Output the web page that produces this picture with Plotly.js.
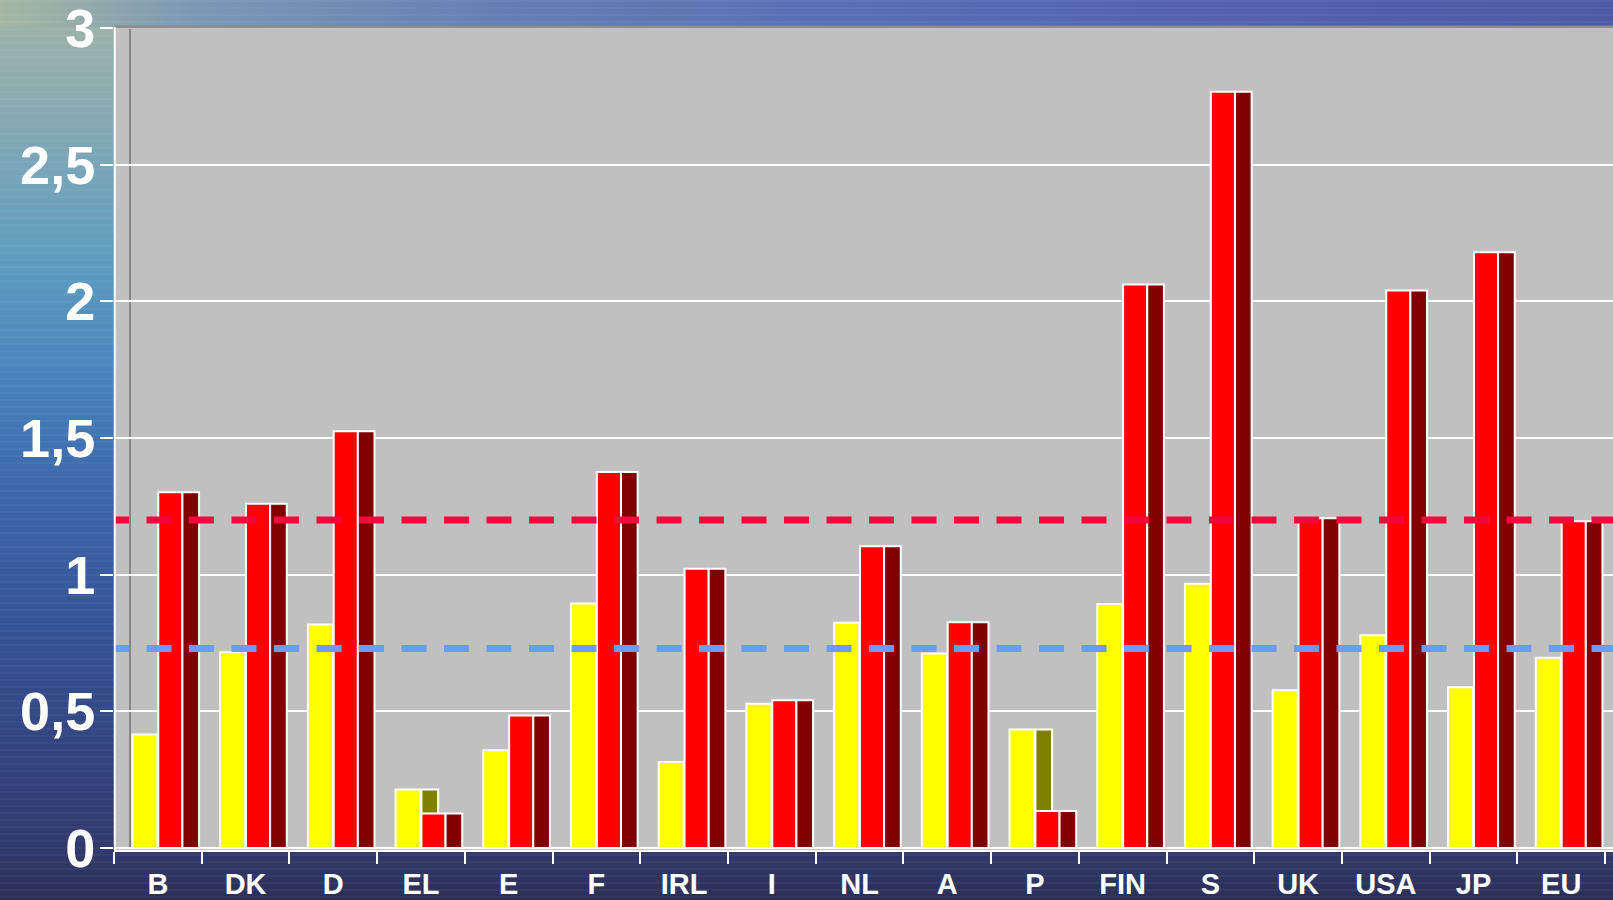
<!DOCTYPE html>
<html>
<head>
<meta charset="utf-8">
<script src="https://cdn.plot.ly/plotly-3.0.1.min.js"></script>
<style>
  html, body { margin:0; padding:0; }
  body {
    width:1613px; height:900px; overflow:hidden;
    background:
      repeating-linear-gradient(to bottom, rgba(255,255,255,0.035) 0px, rgba(255,255,255,0.035) 2px, rgba(0,0,0,0) 2px, rgba(0,0,0,0) 7px),
      linear-gradient(to right, rgba(166,184,162,1) 0%, rgba(124,152,180,1) 12%, rgba(102,128,180,1) 30%, rgba(90,112,182,1) 50%, rgba(84,98,176,1) 75%, rgba(78,90,164,1) 100%) top left / 100% 27px no-repeat,
      linear-gradient(to bottom, #323a6c 0%, #2b2f57 100%) bottom left / 100% 50px no-repeat,
      linear-gradient(to bottom, #a2b4a6 0%, #8aaab2 12%, #5f9ebe 28%, #4a88be 40%, #3e6cae 52%, #385a9e 64%, #344c8c 76%, #333f78 88%, #2e3460 100%);
  }
  #chart { width:1613px; height:900px; }
</style>
</head>
<body>
<div id="chart"></div>
<script>
// ---- data ----
var categories = ['B','DK','D','EL','E','F','IRL','I','NL','A','P','FIN','S','UK','USA','JP','EU'];
var seriesYellow = [0.415, 0.716, 0.818, 0.214, 0.358, 0.895, 0.315, 0.528, 0.824, 0.712, 0.434, 0.893, 0.967, 0.577, 0.778, 0.588, 0.696];
var seriesRed    = [1.302, 1.260, 1.525, 0.126, 0.485, 1.376, 1.022, 0.541, 1.104, 0.826, 0.135, 2.062, 2.767, 1.207, 2.040, 2.180, 1.196];
var redLineValue = 1.2;
var blueLineValue = 0.73;
var yTickValues = [0, 0.5, 1, 1.5, 2, 2.5, 3];
var yTickLabels = ['0', '0,5', '1', '1,5', '2', '2,5', '3'];

// ---- styling ----
var outline = {color:'#ffffff', width:2};
function barTrace(vals, color, offset, width) {
  return {
    type:'bar', x:categories, y:vals,
    offset:offset, width:width,
    marker:{color:color, line:outline},
    hoverinfo:'skip', showlegend:false
  };
}
var traces = [
  barTrace(seriesYellow, '#ffff00', -0.29, 0.285),   // yellow front face
  barTrace(seriesYellow, '#808000', 0.005, 0.19),    // yellow side face
  barTrace(seriesRed, '#ff0000', 0.005, 0.275),      // red front face
  barTrace(seriesRed, '#800000', 0.28, 0.19)         // red side face
];

var dashStr = '15px,17.5px';
for (var i = 0; i < 40; i++) dashStr += ',25px,17.5px';

var fam = 'Liberation Sans, Arial, sans-serif';
var yBottom = -0.0073, yWallTop = 3.0041, yTop = 3.0662;

var layout = {
  width:1613, height:900, autosize:false,
  margin:{l:114, r:0, t:10, b:50, pad:0},
  paper_bgcolor:'rgba(0,0,0,0)',
  plot_bgcolor:'rgba(0,0,0,0)',
  barmode:'overlay',
  showlegend:false,
  hovermode:false,
  xaxis:{
    type:'category', range:[-0.5, 16.59],
    showline:true, linecolor:'#ffffff', linewidth:2,
    ticks:'outside', tickson:'boundaries', ticklen:12, tickwidth:2, tickcolor:'#ffffff',
    ticklabelstandoff:7, ticklabeloverflow:'allow',
    showgrid:false, zeroline:false,
    tickfont:{family:fam, color:'#ffffff', weight:'bold', size:29},
    fixedrange:true
  },
  yaxis:{
    range:[yBottom, yTop],
    tickvals:yTickValues, ticktext:yTickLabels,
    showline:false,
    ticks:'outside', ticklen:13, tickwidth:2, tickcolor:'#ffffff',
    ticklabelstandoff:-6, ticklabeloverflow:'allow',
    showgrid:true, gridcolor:'#ffffff', gridwidth:2,
    zeroline:false,
    tickfont:{family:fam, color:'#ffffff', weight:'bold', size:54},
    fixedrange:true
  },
  shapes:[
    {type:'rect', xref:'paper', yref:'y', x0:0, x1:1, y0:yBottom, y1:yWallTop, fillcolor:'#c0c0c0', line:{width:0}, layer:'below'},
    {type:'line', xref:'paper', yref:'y', x0:16/1499, x1:16/1499, y0:0, y1:yWallTop, line:{color:'#858585', width:2}, layer:'below'},
    {type:'line', xref:'paper', yref:'y', x0:0, x1:1, y0:0, y1:0, line:{color:'#8a8a8a', width:2}, layer:'below'},
    {type:'line', xref:'paper', yref:'y', x0:0, x1:1, y0:redLineValue, y1:redLineValue, line:{color:'#f7063d', width:7, dash:dashStr}, layer:'above'},
    {type:'line', xref:'paper', yref:'y', x0:0, x1:1, y0:blueLineValue, y1:blueLineValue, line:{color:'#6a9bff', width:7, dash:dashStr}, layer:'above'},
    {type:'line', xref:'paper', yref:'y', x0:0.0005, x1:1, y0:yWallTop, y1:yWallTop, line:{color:'#8c8c8c', width:3}, layer:'above'},
    {type:'line', xref:'paper', yref:'y', x0:0.0005, x1:0.0005, y0:yBottom, y1:yWallTop, line:{color:'#ffffff', width:2}, layer:'above'}
  ]
};

Plotly.newPlot('chart', traces, layout, {staticPlot:true, displayModeBar:false});
</script>
</body>
</html>
